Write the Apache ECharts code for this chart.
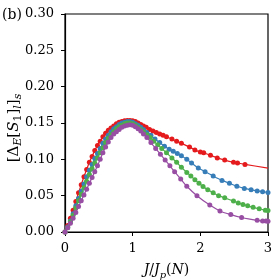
<!DOCTYPE html>
<html><head><meta charset="utf-8">
<script src="https://cdn.jsdelivr.net/npm/echarts@6/dist/echarts.min.js"></script>
<style>html,body{margin:0;padding:0;background:#fff}#c{width:274px;height:280px}</style>
</head><body><div id="c"></div>
<script>
const xTicks = [0, 1, 2, 3];
const yTicks = [0, 0.05, 0.10, 0.15, 0.20, 0.25, 0.30];

const redX = [0,0.04,0.08,0.12,0.16,0.2,0.24,0.28,0.32,0.36,0.4,0.44,0.48,0.52,0.56,0.6,0.64,0.68,0.72,0.76,0.8,0.84,0.88,0.92,0.96,1.0,1.04,1.08,1.12,1.16,1.2,1.25,1.3,1.35,1.4,1.45,1.5,1.58,1.65,1.72,1.84,1.92,2.0,2.05,2.15,2.25,2.36,2.49,2.55,2.66,3.0];
const redY = [0,0.009,0.019,0.030,0.042,0.054,0.065,0.076,0.086,0.096,0.104,0.112,0.119,0.125,0.131,0.136,0.140,0.143,0.146,0.149,0.151,0.152,0.153,0.1535,0.1535,0.153,0.152,0.150,0.148,0.146,0.144,0.141,0.139,0.137,0.135,0.133,0.131,0.128,0.125,0.122,0.117,0.113,0.110,0.109,0.1055,0.102,0.099,0.096,0.095,0.093,0.088];

const blueX = [0,0.04,0.08,0.12,0.16,0.2,0.24,0.28,0.32,0.36,0.4,0.44,0.48,0.52,0.56,0.6,0.64,0.68,0.72,0.76,0.8,0.84,0.88,0.92,0.96,1.0,1.04,1.08,1.12,1.16,1.21,1.27,1.33,1.4,1.47,1.54,1.6,1.66,1.72,1.8,1.87,1.97,2.07,2.19,2.32,2.43,2.54,2.65,2.75,2.84,2.92,3.0];
const blueY = [0,0.007,0.015,0.025,0.036,0.046,0.056,0.066,0.076,0.085,0.093,0.101,0.108,0.115,0.122,0.128,0.133,0.138,0.142,0.145,0.148,0.150,0.151,0.152,0.152,0.151,0.149,0.147,0.144,0.141,0.137,0.133,0.128,0.123,0.118,0.114,0.111,0.108,0.105,0.100,0.095,0.088,0.083,0.077,0.071,0.067,0.063,0.060,0.058,0.0565,0.0555,0.0545];

const greenX = [0,0.04,0.08,0.12,0.16,0.2,0.24,0.28,0.32,0.36,0.4,0.44,0.48,0.52,0.56,0.6,0.64,0.68,0.72,0.76,0.8,0.84,0.88,0.92,0.96,1.0,1.04,1.08,1.12,1.16,1.21,1.26,1.31,1.37,1.43,1.5,1.58,1.65,1.72,1.8,1.86,1.92,1.98,2.04,2.11,2.19,2.27,2.36,2.49,2.56,2.63,2.7,2.78,2.87,2.96,3.0];
const greenY = [0,0.006,0.014,0.023,0.033,0.043,0.052,0.061,0.070,0.079,0.087,0.095,0.102,0.109,0.116,0.123,0.129,0.134,0.138,0.142,0.145,0.147,0.149,0.150,0.150,0.149,0.147,0.144,0.141,0.138,0.134,0.130,0.125,0.120,0.115,0.109,0.102,0.096,0.089,0.082,0.077,0.072,0.067,0.0625,0.058,0.054,0.050,0.047,0.0425,0.040,0.038,0.036,0.034,0.032,0.030,0.0295];

const purpleX = [0,0.04,0.08,0.12,0.16,0.2,0.24,0.28,0.32,0.36,0.4,0.44,0.48,0.52,0.56,0.6,0.64,0.68,0.72,0.76,0.8,0.84,0.88,0.92,0.96,1.0,1.04,1.08,1.12,1.16,1.21,1.27,1.34,1.41,1.48,1.55,1.62,1.71,1.8,1.95,2.14,2.29,2.45,2.61,2.84,2.92,2.97,3.0];
const purpleY = [0,0.006,0.012,0.019,0.027,0.035,0.043,0.051,0.059,0.067,0.075,0.083,0.091,0.100,0.109,0.117,0.124,0.130,0.135,0.138,0.141,0.144,0.146,0.147,0.1475,0.147,0.145,0.142,0.139,0.135,0.130,0.123,0.115,0.107,0.099,0.091,0.083,0.073,0.063,0.050,0.037,0.029,0.024,0.020,0.016,0.0152,0.015,0.0148];

const colors = ['#e41a1c', '#377eb8', '#4daf4a', '#984ea3'];
const seriesX = [redX, blueX, greenX, purpleX];
const seriesY = [redY, blueY, greenY, purpleY];

const serif = 'DejaVu Serif';
const chart = echarts.init(document.getElementById('c'), null, {renderer: 'canvas'});

function mk(i) {
  const xs = seriesX[i], ys = seriesY[i];
  const data = xs.map((x, k) => {
    const item = {value: [x, ys[k]]};
    if (i === 0 && k === xs.length - 1) item.symbol = 'none';
    return item;
  });
  return {
    type: 'line', data: data, smooth: 0.3, symbol: 'circle', symbolSize: 5,
    showAllSymbol: true, clip: true, silent: true, animation: false,
    lineStyle: {color: colors[i], width: 1.2},
    itemStyle: {color: colors[i]},
    z: 2 + i
  };
}

const baseTxt = {fontFamily: serif, fontSize: 14, color: '#000', lineHeight: 20, verticalAlign: 'middle'};
const rich = {
  n: Object.assign({}, baseTxt),
  i: Object.assign({}, baseTxt, {fontStyle: 'italic'}),
  s: {fontFamily: serif, fontSize: 10, color: '#000', lineHeight: 20, verticalAlign: 'bottom'},
  si: {fontFamily: serif, fontSize: 10, color: '#000', lineHeight: 20, verticalAlign: 'bottom', fontStyle: 'italic'}
};
const yb = {fontFamily: serif, fontSize: 15, fill: '#000', lineHeight: 20, verticalAlign: 'middle'};
const richY = {
  n: yb,
  i: Object.assign({}, yb, {fontStyle: 'italic'}),
  s: {fontFamily: serif, fontSize: 11, fill: '#000', lineHeight: 20, verticalAlign: 'bottom'},
  si: {fontFamily: serif, fontSize: 11, fill: '#000', lineHeight: 20, verticalAlign: 'bottom', fontStyle: 'italic'}
};

chart.setOption({
  animation: false,
  grid: {left: 65, right: 6, top: 14, bottom: 48, show: true, borderColor: '#000', borderWidth: 1.2,
    backgroundColor: 'transparent', containLabel: false, outerBoundsMode: 'none'},
  graphic: [
    {type: 'text', left: 2, top: 8, style: {text: '(b)', font: '14px "DejaVu Serif"', fill: '#000'}},
    {type: 'text', x: 14, y: 128, rotation: Math.PI / 2,
      style: {text: '{n|[Δ}{si|E}{n|[}{i|S}{s|1}{n|]}{si|l}{n|]}{si|s}', rich: richY,
        align: 'center', verticalAlign: 'middle'}}
  ],
  xAxis: {
    type: 'value', min: 0, max: 3, interval: 1,
    axisLine: {show: true, lineStyle: {color: '#000', width: 1.2}},
    axisTick: {show: true, length: 4, inside: false, lineStyle: {color: '#000', width: 1}},
    axisLabel: {fontFamily: serif, fontSize: 13, color: '#000', margin: 10,
      formatter: v => xTicks.includes(v) ? String(v) : ''},
    splitLine: {show: false},
    name: '{i|J}{n|/}{i|J}{si|p}{n|(}{i|N}{n|)}',
    nameLocation: 'middle', nameGap: 28,
    nameTextStyle: {rich: rich}
  },
  yAxis: {
    type: 'value', min: 0, max: 0.3, interval: 0.05,
    axisLine: {show: true, lineStyle: {color: '#000', width: 1.2}},
    axisTick: {show: true, length: 4, inside: false, lineStyle: {color: '#000', width: 1}},
    axisLabel: {fontFamily: serif, fontSize: 13, color: '#000', margin: 11,
      formatter: v => v.toFixed(2)},
    splitLine: {show: false}
  },
  series: [mk(0), mk(1), mk(2), mk(3)]
});
</script></body></html>
